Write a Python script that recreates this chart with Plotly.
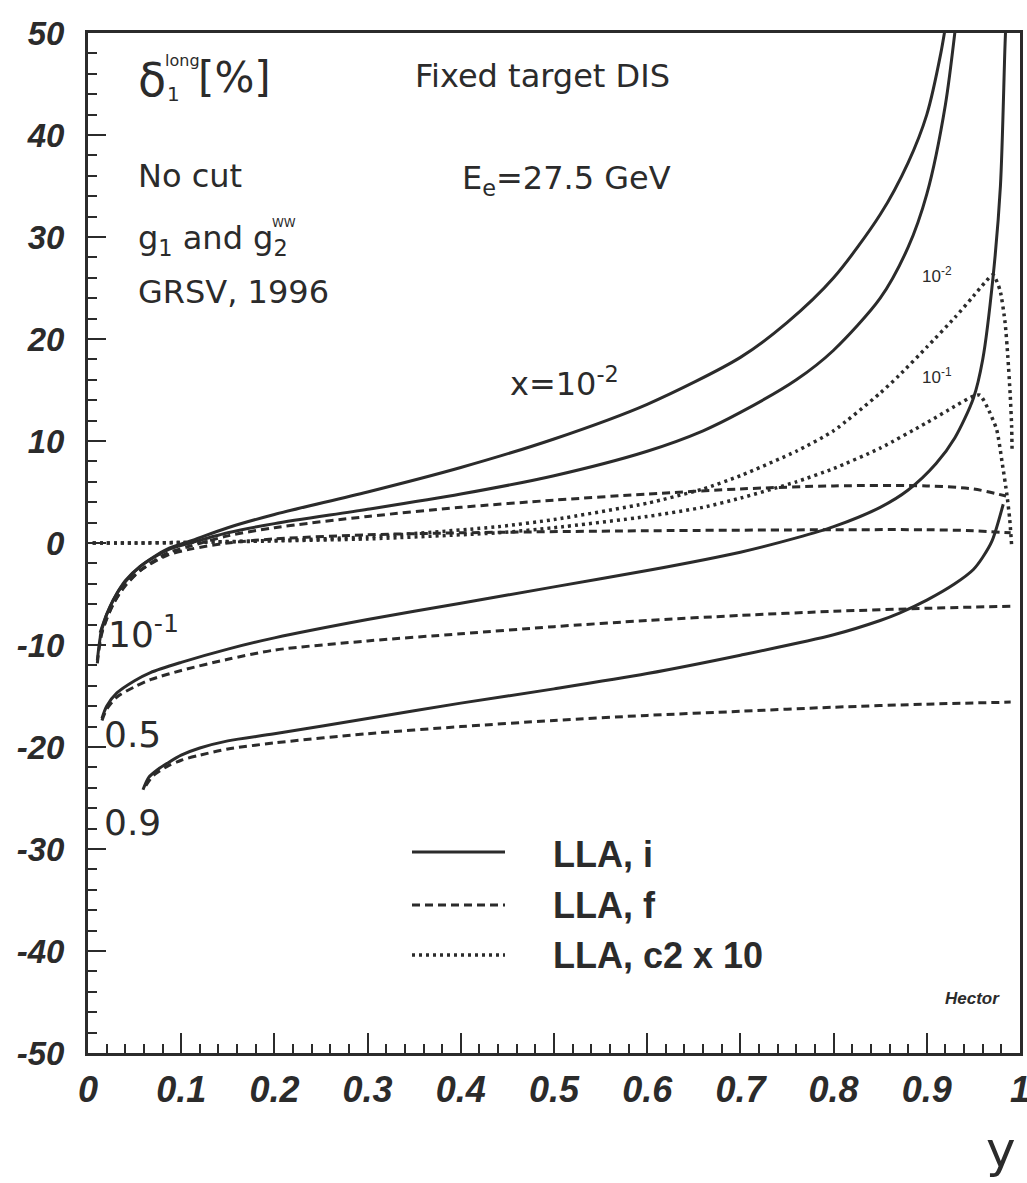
import plotly.graph_objects as go

# ---------------------------------------------------------------------------
# delta_1^long [%] versus y for fixed-target DIS (E_e = 27.5 GeV), GRSV 1996
# Three approximations (LLA initial, LLA final, LLA c2 x 10) for x = 1e-2,
# 1e-1, 0.5 and 0.9.
# ---------------------------------------------------------------------------

# LLA, i  (solid)
y_i_x1e2 = [0.010, 0.015, 0.027, 0.040, 0.056, 0.085, 0.11, 0.15, 0.20, 0.30, 0.40,
            0.50, 0.60, 0.70, 0.75, 0.80, 0.85, 0.88, 0.90, 0.915, 0.925]
d_i_x1e2 = [-11.5, -8.4, -5.6, -3.8, -2.3, -0.6, 0.2, 1.5, 2.8, 5.0, 7.4,
            10.2, 13.6, 18.2, 21.6, 26.0, 32.2, 37.3, 42.0, 48.0, 53.5]

y_i_x1e1 = [0.013, 0.020, 0.027, 0.040, 0.056, 0.085, 0.11, 0.15, 0.20, 0.30, 0.40,
            0.50, 0.60, 0.66, 0.70, 0.76, 0.80, 0.85, 0.88, 0.90, 0.92, 0.935]
d_i_x1e1 = [-8.8, -7.0, -5.6, -3.7, -2.3, -0.7, 0.0, 1.0, 1.9, 3.3, 4.8,
            6.6, 9.0, 11.0, 12.8, 16.0, 18.9, 24.0, 29.0, 34.2, 43.0, 54.0]

y_i_x05 = [0.015, 0.020, 0.031, 0.050, 0.067, 0.10, 0.15, 0.20, 0.30, 0.40, 0.50, 0.60,
           0.70, 0.76, 0.80, 0.85, 0.88, 0.91, 0.93, 0.95, 0.96, 0.971, 0.979,
           0.984, 0.987]
d_i_x05 = [-17.2, -16.0, -14.7, -13.5, -12.7, -11.7, -10.4, -9.3, -7.5, -5.9, -4.3, -2.7,
           -0.9, 0.5, 1.6, 3.5, 5.2, 7.8, 10.3, 14.2, 18.0, 26.0, 35.0,
           49.0, 56.0]

y_i_x09 = [0.059, 0.065, 0.075, 0.085, 0.10, 0.12, 0.15, 0.20, 0.30, 0.40, 0.50, 0.60,
           0.70, 0.80, 0.85, 0.87, 0.90, 0.93, 0.95, 0.96, 0.97, 0.982]
d_i_x09 = [-24.2, -23.0, -22.2, -21.6, -20.8, -20.1, -19.4, -18.7, -17.2, -15.7, -14.3, -12.8,
           -11.0, -9.0, -7.6, -6.9, -5.6, -4.0, -2.6, -1.4, 0.2, 3.8]

# LLA, f  (dashed)
y_f_x1e2 = [0.010, 0.015, 0.027, 0.040, 0.056, 0.085, 0.11, 0.15, 0.20, 0.30, 0.40, 0.50,
            0.60, 0.70, 0.80, 0.90, 0.95, 0.985]
d_f_x1e2 = [-11.8, -8.8, -6.0, -4.2, -2.7, -1.0, -0.3, 0.7, 1.5, 2.6, 3.5, 4.2,
            4.8, 5.3, 5.6, 5.6, 5.3, 4.6]

y_f_x1e1 = [0.013, 0.020, 0.027, 0.040, 0.056, 0.085, 0.11, 0.15, 0.20, 0.30, 0.40, 0.60,
            0.80, 0.90, 0.95, 0.99]
d_f_x1e1 = [-9.2, -7.4, -6.0, -4.1, -2.7, -1.2, -0.6, 0.0, 0.4, 0.8, 1.0, 1.2,
            1.3, 1.3, 1.2, 1.0]

y_f_x05 = [0.015, 0.020, 0.031, 0.050, 0.067, 0.10, 0.15, 0.20, 0.30, 0.40, 0.50, 0.60,
           0.70, 0.80, 0.90, 0.99]
d_f_x05 = [-17.4, -16.3, -15.1, -14.1, -13.4, -12.5, -11.4, -10.5, -9.6, -8.9, -8.2, -7.6,
           -7.1, -6.7, -6.4, -6.2]

y_f_x09 = [0.062, 0.070, 0.085, 0.10, 0.12, 0.15, 0.20, 0.30, 0.40, 0.50, 0.60, 0.70,
           0.80, 0.90, 0.99]
d_f_x09 = [-23.8, -22.8, -21.9, -21.3, -20.8, -20.2, -19.6, -18.7, -18.0, -17.4, -16.9, -16.5,
           -16.1, -15.8, -15.6]

# LLA, c2 x 10  (dotted)
y_c_x1e2 = [0.005, 0.05, 0.10, 0.20, 0.30, 0.44, 0.50, 0.60, 0.66, 0.70, 0.76, 0.80,
            0.85, 0.87, 0.90, 0.93, 0.95, 0.962, 0.971, 0.9785, 0.984, 0.987, 0.9895,
            0.991, 0.9915]
d_c_x1e2 = [0.0, 0.0, 0.05, 0.25, 0.6, 1.6, 2.3, 3.9, 5.3, 6.6, 9.0, 11.0,
            14.7, 16.4, 19.2, 22.1, 24.2, 25.5, 26.3, 24.8, 21.6, 18.2, 14.5,
            11.5, 9.0]

y_c_x1e1 = [0.005, 0.05, 0.10, 0.20, 0.30, 0.44, 0.50, 0.60, 0.66, 0.70, 0.76, 0.80,
            0.85, 0.90, 0.93, 0.95, 0.957, 0.965, 0.975, 0.981, 0.986, 0.989, 0.991]
d_c_x1e1 = [0.0, 0.0, 0.05, 0.2, 0.4, 1.0, 1.5, 2.6, 3.5, 4.4, 6.0, 7.3,
            9.3, 11.8, 13.4, 14.4, 14.5, 13.3, 11.1, 7.8, 4.7, 2.3, -0.2]

# axis ticks
y_tickvals = [-50, -40, -30, -20, -10, 0, 10, 20, 30, 40, 50]
y_ticktext = ["-50", "-40", "-30", "-20", "-10", "0", "10", "20", "30", "40", "50"]
x_tickvals = [0, 0.1, 0.2, 0.3, 0.4, 0.5, 0.6, 0.7, 0.8, 0.9, 1.0]
x_ticktext = ["0", "0.1", "0.2", "0.3", "0.4", "0.5", "0.6", "0.7", "0.8", "0.9", "1"]

INK = "#2b2b2b"
TEXT_FONT = "DejaVu Sans"
BOLD_FONT = "Liberation Sans"

# frame geometry in pixels (plot area 88..1020 x 33..1053)
W, H = 1027, 1183
L, R, T, B = 88, 1020, 33, 1053


def dx(px):
    return (px - L) / (R - L)


def dy(py):
    return 50 - (py - T) / (B - T) * 100


fig = go.Figure()

solid = dict(color=INK, width=3)
dashed = dict(color=INK, width=3, dash="8px,5px")
dotted = dict(color=INK, width=3.5, dash="3px,4px")

for xs, ys in [(y_i_x1e2, d_i_x1e2), (y_i_x1e1, d_i_x1e1), (y_i_x05, d_i_x05), (y_i_x09, d_i_x09)]:
    fig.add_trace(go.Scatter(x=xs, y=ys, mode="lines", line=dict(**solid, shape="spline", smoothing=0.8),
                             showlegend=False, hoverinfo="skip"))
for xs, ys in [(y_f_x1e2, d_f_x1e2), (y_f_x1e1, d_f_x1e1), (y_f_x05, d_f_x05), (y_f_x09, d_f_x09)]:
    fig.add_trace(go.Scatter(x=xs, y=ys, mode="lines", line=dict(**dashed, shape="spline", smoothing=0.8),
                             showlegend=False, hoverinfo="skip"))
for xs, ys in [(y_c_x1e2, d_c_x1e2), (y_c_x1e1, d_c_x1e1)]:
    fig.add_trace(go.Scatter(x=xs, y=ys, mode="lines", line=dict(**dotted, shape="spline", smoothing=0.6),
                             showlegend=False, hoverinfo="skip"))

# legend samples drawn as line shapes
for py, style in [(852, solid), (905, dashed), (955, dotted)]:
    fig.add_shape(type="line", x0=dx(412), x1=dx(505), y0=dy(py), y1=dy(py),
                  xref="x", yref="y", line=style)

ann = []


def text(px, py, s, size, family=TEXT_FONT, xanchor="left", yanchor="middle", xref="x", yref="y"):
    ann.append(dict(x=dx(px) if xref == "x" else px, y=dy(py) if yref == "y" else py,
                    xref=xref, yref=yref, text=s, showarrow=False,
                    font=dict(family=family, size=size, color=INK),
                    xanchor=xanchor, yanchor=yanchor))


# header block
text(136, 80, "δ", 46)
text(165, 94, "1", 20)
text(163, 60, "long", 16)
text(196, 77, "[%]", 42)
text(136, 176, "No cut", 32)
text(136, 240, "g<sub>1</sub> and g<sub>2</sub>", 32)
text(270, 223, "WW", 12)
text(136, 292, "GRSV, 1996", 32)
text(413, 76, "Fixed target DIS", 32)
text(460, 180, "E<sub>e</sub>=27.5 GeV", 32)

# curve labels
text(508, 382, "x=10<sup>-2</sup>", 32)
text(920, 275, "10<sup>-2</sup>", 17, family=BOLD_FONT)
text(920, 376, "10<sup>-1</sup>", 17, family=BOLD_FONT)
text(106, 632, "10<sup>-1</sup>", 36)
text(102, 734, "0.5", 36)
text(102, 822, "0.9", 36)

# legend text
text(551, 854, "<b>LLA, i</b>", 36, family=BOLD_FONT)
text(551, 905, "<b>LLA, f</b>", 36, family=BOLD_FONT)
text(551, 955, "<b>LLA, c2 x 10</b>", 36, family=BOLD_FONT)

text(943, 998, "<b><i>Hector</i></b>", 17, family=BOLD_FONT)

# x-axis title
ann.append(dict(x=0.98, y=-0.095, xref="paper", yref="paper", text="y", showarrow=False,
                font=dict(family=TEXT_FONT, size=50, color=INK), xanchor="center", yanchor="middle"))

fig.update_layout(
    width=W, height=H,
    margin=dict(l=L, r=W - R, t=T, b=H - B, pad=0, autoexpand=False),
    paper_bgcolor="white", plot_bgcolor="white",
    annotations=ann,
    showlegend=False,
)

y_font = dict(family=BOLD_FONT, size=33, color=INK, weight="bold", style="italic")
x_font = dict(family=BOLD_FONT, size=36, color=INK, weight="bold", style="italic")

fig.update_xaxes(
    range=[0, 1], showgrid=False, zeroline=False, automargin=False,
    showline=True, linecolor=INK, linewidth=3, mirror=True,
    ticks="inside", ticklen=20, tickwidth=2, tickcolor=INK,
    tickvals=x_tickvals, ticktext=x_ticktext, tickfont=x_font,
    ticklabelstandoff=3, ticklabeloverflow="allow",
    minor=dict(ticks="inside", dtick=0.02, ticklen=9, tickwidth=2, tickcolor=INK, showgrid=False),
)
fig.update_yaxes(
    range=[-50, 50], showgrid=False, zeroline=False, automargin=False,
    showline=True, linecolor=INK, linewidth=3, mirror=True,
    ticks="inside", ticklen=18, tickwidth=2, tickcolor=INK,
    tickvals=y_tickvals, ticktext=y_ticktext, tickfont=y_font,
    ticklabelstandoff=14, ticklabeloverflow="allow",
    minor=dict(ticks="inside", dtick=2, ticklen=9, tickwidth=2, tickcolor=INK, showgrid=False),
)

fig.write_html("out.html")
